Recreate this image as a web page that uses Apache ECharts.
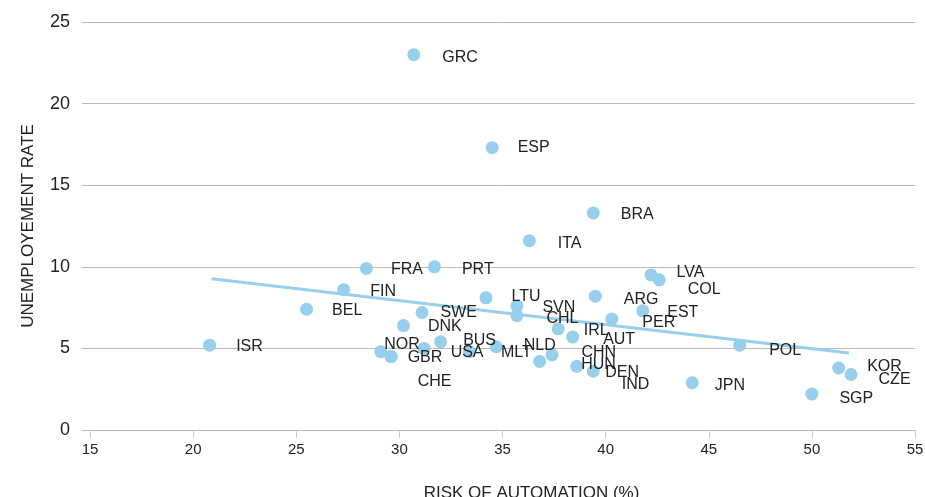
<!DOCTYPE html>
<html>
<head>
<meta charset="utf-8">
<title>Risk of automation vs unemployment</title>
<script src="https://cdn.jsdelivr.net/npm/echarts@6/dist/echarts.min.js"></script>
<style>
  html, body { margin: 0; padding: 0; background: #fff; }
  #chart { width: 925px; height: 497px; }
</style>
</head>
<body>
<div id="chart"></div>
<script>
  // values
  var countries = ['GRC', 'ESP', 'BRA', 'ITA', 'FRA', 'PRT', 'FIN', 'BEL', 'SWE', 'DNK',
    'ISR', 'LTU', 'SVN', 'CHL', 'IRL', 'AUT', 'ARG', 'PER', 'EST', 'LVA',
    'COL', 'POL', 'JPN', 'KOR', 'CZE', 'SGP', 'NOR', 'GBR', 'CHE', 'USA',
    'BUS', 'MLT', 'NLD', 'CHN', 'HUN', 'DEN', 'IND'];
  var riskOfAutomation = [30.7, 34.5, 39.4, 36.3, 28.4, 31.7, 27.3, 25.5, 31.1, 30.2,
    20.8, 34.2, 35.7, 35.7, 37.7, 38.4, 39.5, 40.3, 41.8, 42.2,
    42.6, 46.5, 44.2, 51.3, 51.9, 50.0, 29.1, 29.6, 29.6, 31.2,
    32.0, 33.4, 34.7, 37.4, 36.8, 38.6, 39.4];
  var unemploymentRate = [23.0, 17.3, 13.3, 11.6, 9.9, 10.0, 8.6, 7.4, 7.2, 6.4,
    5.2, 8.1, 7.6, 7.0, 6.2, 5.7, 8.2, 6.8, 7.3, 9.5,
    9.2, 5.2, 2.9, 3.8, 3.4, 2.2, 4.8, 4.5, 4.5, 5.0,
    5.4, 4.8, 5.1, 4.6, 4.2, 3.9, 3.6];
  // trend line end points
  var trendRisk = [20.9, 51.8];
  var trendRate = [9.27, 4.72];

  // hand placed label nudges (px), as in the original
  var labelNudge = {
    GRC: [22, 3], ESP: [19, 0], BRA: [21, 2], ITA: [22, 3], FRA: [18, 1], PRT: [21, 3],
    FIN: [20, 2], BEL: [19, 1], SWE: [12, 0], DNK: [18, 1], ISR: [20, 1], LTU: [19, -1],
    SVN: [19, 2], CHL: [23, 3], IRL: [19, 2], AUT: [24, 3], ARG: [22, 3], PER: [24, 4],
    EST: [18, 2], LVA: [19, -2], COL: [22, 10], POL: [23, 5], JPN: [16, 3], KOR: [22, -1],
    CZE: [21, 5], SGP: [21, 4], NOR: [-3, -7], GBR: [10, 1], CHE: [20, 25], USA: [20, 4],
    BUS: [16, -1], MLT: [25, 1], NLD: [21, -1], CHN: [23, -2], HUN: [35, 3], DEN: [22, 6],
    IND: [22, 13]
  };

  var blue = '#98cfec';
  var points = countries.map(function (c, i) {
    return {
      name: c,
      value: [riskOfAutomation[i], unemploymentRate[i]],
      label: { offset: labelNudge[c] || [20, 2] }
    };
  });
  var trend = trendRisk.map(function (x, i) { return [x, trendRate[i]]; });

  var myChart = echarts.init(document.getElementById('chart'));
  var option = {
    animation: false,
    grid: { left: 90, right: 10, top: 22, bottom: 67, containLabel: false, outerBoundsMode: 'none' },
    xAxis: {
      type: 'value',
      min: 15,
      max: 55,
      interval: 5,
      name: 'RISK OF AUTOMATION (%)',
      nameLocation: 'middle',
      nameGap: 55,
      nameTextStyle: { fontFamily: 'Liberation Sans', fontSize: 17, color: '#222', padding: [0, 0, 0, 58] },
      axisLine: { show: true, lineStyle: { color: '#bbb', width: 1 } },
      axisTick: { show: true, length: 8, lineStyle: { color: '#ccc' } },
      axisLabel: { margin: 12, fontFamily: 'Liberation Sans', fontSize: 15, color: '#222' },
      splitLine: { show: false }
    },
    yAxis: {
      type: 'value',
      min: 0,
      max: 25,
      interval: 5,
      name: 'UNEMPLOYEMENT RATE',
      nameLocation: 'middle',
      nameGap: 53,
      nameTextStyle: { fontFamily: 'Liberation Sans', fontSize: 17, color: '#222' },
      axisLine: { show: false },
      axisTick: { show: true, length: 8, lineStyle: { color: '#bbb' } },
      axisLabel: { margin: 20, fontFamily: 'Liberation Sans', fontSize: 18, color: '#222' },
      splitLine: { show: true, lineStyle: { color: '#bbb', width: 1 } }
    },
    series: [
      {
        type: 'line',
        data: trend,
        symbol: 'none',
        silent: true,
        z: 1,
        lineStyle: { color: blue, width: 3 }
      },
      {
        type: 'scatter',
        data: points,
        symbolSize: 13,
        z: 2,
        itemStyle: { color: blue, opacity: 1 },
        label: {
          show: true,
          position: 'right',
          distance: 0,
          formatter: '{b}',
          fontFamily: 'Liberation Sans',
          fontSize: 16,
          color: '#222'
        }
      }
    ]
  };
  myChart.setOption(option);
</script>
</body>
</html>
